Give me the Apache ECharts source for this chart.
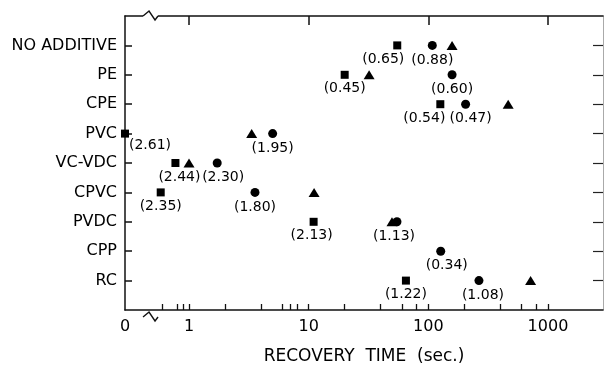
<!DOCTYPE html>
<html><head><meta charset="utf-8">
<script src="https://cdn.jsdelivr.net/npm/echarts@6/dist/echarts.min.js"></script>
<style>html,body{margin:0;padding:0;background:#fff}#c{width:604px;height:370px}</style>
</head><body><div id="c"></div>
<script>
// ---- data (recovery time in seconds; 0 = plotted on the broken "0" end) ----
const categories = ['NO ADDITIVE','PE','CPE','PVC','VC-VDC','CPVC','PVDC','CPP','RC'];
const squareTime   = [55, 20, 126, 0, 0.77, 0.58, 11, null, 65];
const squareNote   = ['0.65','0.45','0.54','2.61','2.44','2.35','2.13', null,'1.22'];
const circleTime   = [108, 158, 205, 5.0, 1.72, 3.56, 54.7, 127, 265];
const circleNote   = ['0.88','0.60','0.47','1.95','2.30','1.80','1.13','0.34','1.08'];
const triangleTime = [158, 32, 465, 3.34, 1.0, 11.1, 49.7, null, 716];
const majorTickTimes  = [0, 1, 10, 100, 1000];
const majorTickLabels = ['0','1','10','100','1000'];
const minorTickTimes  = [0.6,0.8,0.9,2,4,6,7,8,20,40,60,80,200,400,600,800];
const axisTitle = 'RECOVERY  TIME  (sec.)';

// ---- layout / style ----
const X_MIN = -0.535, X_MAX = 3.46;   // log10 scale extent; "0" sits at X_MIN
const BREAK_POS = -0.3175;
const squareShift = {'NO ADDITIVE':[-14,0],'CPE':[-16,0],'PVC':[25,-2],'VC-VDC':[4,0],'PVDC':[-2,0]};
const circleShift = {'CPE':[5,0],'VC-VDC':[6,0],'PVDC':[-3,0],'CPP':[6,0],'RC':[4,0]};
const FONT = 'DejaVu Sans';

const xPos = t => t === 0 ? X_MIN : Math.log10(t);
const yCats = [''].concat(categories.slice().reverse(), ['']);

function build(times, notes, shifts) {
  const out = [];
  categories.forEach((c, i) => {
    if (times[i] == null) return;
    const d = {value: [xPos(times[i]), c]};
    if (notes && notes[i]) {
      d.label = {show: true, position: 'bottom', distance: 3,
        formatter: '(' + notes[i] + ')', offset: (shifts && shifts[c]) || [0,0],
        color: '#000', fontFamily: FONT, fontSize: 14};
    }
    out.push(d);
  });
  return out;
}

const chart = echarts.init(document.getElementById('c'));
const majorPos = majorTickTimes.filter(t => t > 0).map(xPos);
const allTickPos = majorPos.concat(minorTickTimes.map(xPos)).sort((a, b) => a - b);
const labelPos = majorTickTimes.map(xPos);
chart.setOption({
  backgroundColor: '#fff',
  animation: false,
  grid: {left: 125, right: 1, top: 16, bottom: 53},
  xAxis: [
    {type: 'value', min: X_MIN, max: X_MAX, position: 'bottom', splitLine: {show: false},
      axisLine: {show: true, onZero: false, lineStyle: {color: '#111', width: 1.5}},
      axisTick: {show: true, inside: true, length: 6, lineStyle: {color: '#111', width: 1.3},
        customValues: allTickPos},
      axisLabel: {show: true, customValues: labelPos, margin: 9,
        color: '#000', fontFamily: FONT, fontSize: 16,
        formatter: v => { const k = labelPos.findIndex(p => Math.abs(p - v) < 1e-6); return k >= 0 ? majorTickLabels[k] : ''; }},
      name: axisTitle, nameLocation: 'middle', nameGap: 38,
      nameTextStyle: {color: '#000', fontFamily: FONT, fontSize: 17}},
    {type: 'value', min: X_MIN, max: X_MAX, position: 'top', splitLine: {show: false},
      axisLine: {show: true, onZero: false, lineStyle: {color: '#111', width: 1.5}},
      axisTick: {show: true, inside: true, length: 9, lineStyle: {color: '#111', width: 1.5},
        customValues: majorPos},
      axisLabel: {show: false}}
  ],
  yAxis: [
    {type: 'category', data: yCats, boundaryGap: false, position: 'left',
      axisLine: {show: true, onZero: false, lineStyle: {color: '#111', width: 1.5}},
      axisTick: {show: true, inside: true, length: 7, lineStyle: {color: '#111', width: 1.5},
        interval: (i, v) => v !== ''},
      axisLabel: {interval: 0, margin: 8, color: '#000', fontFamily: FONT, fontSize: 16}},
    {type: 'category', data: yCats, boundaryGap: false, position: 'right',
      axisLine: {show: true, onZero: false, lineStyle: {color: '#aaa', width: 1}},
      axisTick: {show: true, inside: true, length: 10, lineStyle: {color: '#222', width: 1.2},
        interval: (i, v) => v !== ''},
      axisLabel: {show: false}}
  ],
  series: [
    {type: 'scatter', name: 'square', symbol: 'rect', symbolSize: 8,
      itemStyle: {color: '#000', opacity: 1}, data: build(squareTime, squareNote, squareShift)},
    {type: 'scatter', name: 'circle', symbol: 'circle', symbolSize: 9,
      itemStyle: {color: '#000', opacity: 1}, data: build(circleTime, circleNote, circleShift)},
    {type: 'scatter', name: 'triangle', symbol: 'triangle', symbolSize: [11, 9],
      itemStyle: {color: '#000', opacity: 1}, data: build(triangleTime, null, null)}
  ]
});

// axis-break zigzags on top and bottom axis lines
const bx = chart.convertToPixel({xAxisIndex: 0}, BREAK_POS);
function zig(y) {
  return [
    {type: 'rect', shape: {x: bx - 8, y: y - 2, width: 15, height: 4}, style: {fill: '#fff'}, z: 100},
    {type: 'polyline', shape: {points: [[bx - 8, y], [bx - 2, y - 5], [bx + 4, y + 4], [bx + 7, y]]},
      style: {stroke: '#111', lineWidth: 1.4, fill: null}, z: 101}
  ];
}
chart.setOption({graphic: zig(16).concat(zig(317))});
</script></body></html>
